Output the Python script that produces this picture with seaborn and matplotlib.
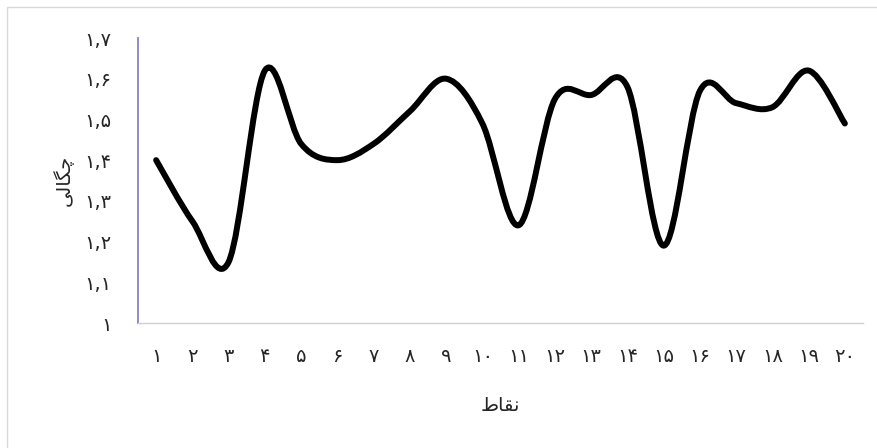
import numpy as np
import seaborn as sns
import matplotlib
matplotlib.use("Agg")
import matplotlib.pyplot as plt
from matplotlib.path import Path
from matplotlib.patches import PathPatch, Rectangle

# data
points = list(range(1, 21))
density = [1.40, 1.25, 1.15, 1.62, 1.44, 1.40, 1.44, 1.52, 1.60, 1.49,
           1.24, 1.55, 1.56, 1.58, 1.19, 1.57, 1.54, 1.53, 1.62, 1.49]
x_labels = ['۱', '۲', '۳', '۴', '۵', '۶', '۷', '۸', '۹', '۱۰',
            '۱۱', '۱۲', '۱۳', '۱۴', '۱۵', '۱۶', '۱۷', '۱۸', '۱۹', '۲۰']
y_ticks = [1.0, 1.1, 1.2, 1.3, 1.4, 1.5, 1.6, 1.7]
y_labels = ['۱', '۱,۱', '۱,۲', '۱,۳', '۱,۴', '۱,۵', '۱,۶', '۱,۷']
# Persian labels written with presentation forms in visual order
x_title = '\uFEC1\uFE8E\uFED8\uFEE7'            # نقاط
y_title = '\uFBFD\uFEDF\uFE8E\uFB95\uFB7C'      # چگالی

sns.set_theme(style="white")
plt.rcParams['font.family'] = ['DejaVu Sans']

fig = plt.figure(figsize=(8.78, 4.48), dpi=100)
ax = fig.add_axes([138 / 878, 125 / 448, 725 / 878, 285 / 448])

# excel style smoothed line: cubic bezier through the points
xs = np.array(points, dtype=float)
ys = np.array(density)
n = len(xs)
verts = [(xs[0], ys[0])]
codes = [Path.MOVETO]
for i in range(n - 1):
    p0 = max(i - 1, 0)
    p3 = min(i + 2, n - 1)
    c1 = (xs[i] + (xs[i + 1] - xs[p0]) / 6, ys[i] + (ys[i + 1] - ys[p0]) / 6)
    c2 = (xs[i + 1] - (xs[p3] - xs[i]) / 6, ys[i + 1] - (ys[p3] - ys[i]) / 6)
    verts += [c1, c2, (xs[i + 1], ys[i + 1])]
    codes += [Path.CURVE4] * 3
ax.add_patch(PathPatch(Path(verts, codes), facecolor='none', edgecolor='black',
                       lw=4.3, capstyle='round', joinstyle='round'))

ax.set_xlim(0.5, 20.5)
ax.set_ylim(1.0, 1.7)
ax.set_xticks(points)
ax.set_xticklabels(x_labels, fontsize=14)
ax.set_yticks(y_ticks)
ax.set_yticklabels(y_labels, fontsize=14)
ax.tick_params(axis='x', length=0, pad=17)
ax.tick_params(axis='y', length=0, pad=19)

sns.despine(ax=ax, top=True, right=True)
ax.spines['left'].set_color('#8f7fc2')
ax.spines['left'].set_linewidth(1.3)
ax.spines['bottom'].set_color('#d0d0d0')
ax.spines['bottom'].set_linewidth(1.0)

ax.set_xlabel(x_title, fontsize=14, labelpad=22)
ax.set_ylabel(y_title, fontsize=14, labelpad=8)

# outer chart frame
fig.patches.append(Rectangle((7.5 / 878, -0.1), 1.2, 1.1 - 7.5 / 448,
                             transform=fig.transFigure, fill=False,
                             edgecolor='#d9d9d9', lw=1.0))

fig.savefig('out.png', dpi=100)
